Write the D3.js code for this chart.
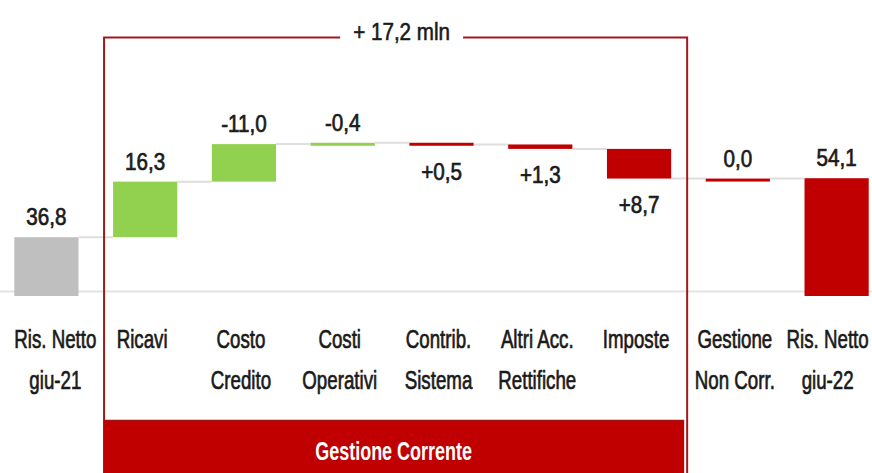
<!DOCTYPE html>
<html>
<head>
<meta charset="utf-8">
<script src="https://cdn.jsdelivr.net/npm/d3@7"></script>
<style>
  body { margin: 0; background: #fff; }
  svg text { font-family: "Liberation Sans", Arial, sans-serif; fill: #1a1a1a; }
</style>
</head>
<body>
<div id="chart"></div>
<script>
// waterfall data
var categories = [
  ["Ris. Netto", "giu-21"],
  ["Ricavi"],
  ["Costo", "Credito"],
  ["Costi", "Operativi"],
  ["Contrib.", "Sistema"],
  ["Altri Acc.", "Rettifiche"],
  ["Imposte"],
  ["Gestione", "Non Corr."],
  ["Ris. Netto", "giu-22"]
];
var values = [36.8, 16.3, 11.0, 0.4, -0.5, -1.3, -8.7, 0.0, 54.1];
var kinds = ["start", "up", "up", "up", "down", "down", "down", "down", "end"];
var valueLabels = ["36,8", "16,3", "-11,0", "-0,4", "+0,5", "+1,3", "+8,7", "0,0", "54,1"];
var groupTitle = "+ 17,2 mln";
var groupName = "Gestione Corrente";
var groupFrom = 1, groupTo = 6;

var colors = { start: "#bfbfbf", up: "#92d050", down: "#c00000", end: "#c00000" };

var W = 872, H = 473;

var svg = d3.select("#chart").append("svg")
  .attr("width", W).attr("height", H);

var ids = categories.map(function(c, i) { return "c" + i; });

var x = d3.scaleBand()
  .domain(ids)
  .range([-3, 886])
  .paddingInner(0.35)
  .paddingOuter(0.175);

var y = d3.scaleLinear()
  .domain([20, 70])
  .range([294.5, 124]);

// build running totals
var bars = [];
var run = 0;
values.forEach(function(v, i) {
  var k = kinds[i];
  var b = { id: ids[i], kind: k, label: valueLabels[i], cat: categories[i], v: v };
  if (k === "start" || k === "end") {
    b.y0 = y.domain()[0]; b.y1 = v; run = v;
  } else {
    b.y0 = run; b.y1 = run + v; run = b.y1;
  }
  b.level = run;
  bars.push(b);
});

// narrow text: the original font is condensed, so squeeze horizontally
function narrowText(sel, cx, cy, sx) {
  return sel.append("text")
    .attr("transform", "translate(" + cx + "," + cy + ") scale(" + sx + ",1)")
    .attr("text-anchor", "middle");
}

// base line
svg.append("line")
  .attr("x1", 0).attr("x2", W)
  .attr("y1", 291.5).attr("y2", 291.5)
  .attr("stroke", "#e3e3e3").attr("stroke-width", 2);

// connectors
for (var i = 0; i < bars.length - 1; i++) {
  svg.append("line")
    .attr("class", "conn")
    .attr("x1", x(bars[i].id) + x.bandwidth())
    .attr("x2", x(bars[i + 1].id))
    .attr("y1", y(bars[i].level))
    .attr("y2", y(bars[i].level))
    .attr("stroke", "#dedede").attr("stroke-width", 2);
}

// bars
function barTop(b) { return Math.min(y(b.y0), y(b.y1)); }
function barBot(b) { return Math.max(y(b.y0), y(b.y1)); }
function barH(b) { return Math.max(3, barBot(b) - barTop(b)); }
function isTotal(b) { return b.kind === "start" || b.kind === "end"; }

svg.selectAll("rect.bar")
  .data(bars)
  .enter().append("rect")
  .attr("class", "bar")
  .attr("x", function(d) { return x(d.id); })
  .attr("width", x.bandwidth())
  .attr("y", function(d) { return barTop(d); })
  .attr("height", function(d) { return isTotal(d) ? 296 - barTop(d) : barH(d); })
  .attr("fill", function(d) { return colors[d.kind]; });

// value labels
bars.forEach(function(d) {
  var cy = d.v < 0 ? barTop(d) + barH(d) + 34 : barTop(d) - 12;
  narrowText(svg, x(d.id) + x.bandwidth() / 2, cy, 0.86)
    .style("font-size", "24px")
    .style("stroke", "#1a1a1a").style("stroke-width", 0.7)
    .text(d.label);
});

// category labels (kept inside the outer bars' edges)
var catScale = 0.72;
var edgeL = x(ids[0]), edgeR = x(ids[ids.length - 1]) + x.bandwidth();
bars.forEach(function(d) {
  var cx = x(d.id) + x.bandwidth() / 2 - 3;
  var t = narrowText(svg, cx, 348, catScale)
    .style("font-size", "26px")
    .style("stroke", "#1a1a1a").style("stroke-width", 0.7);
  d.cat.forEach(function(line, j) {
    t.append("tspan").attr("x", 0).attr("y", j * 41).text(line);
  });
  var half = t.node().getBBox().width * catScale / 2;
  var nx = Math.min(Math.max(cx, edgeL + half), edgeR - half);
  t.attr("transform", "translate(" + nx + ",348) scale(" + catScale + ",1)");
});

// group box
var boxL = x(ids[groupFrom]) - 9;
var boxR = x(ids[groupTo]) + x.bandwidth() + 16;
var boxT = 37.5;
var mid = (boxL + boxR) / 2 + 6;
var boxColor = "#a0181c";

svg.append("rect")
  .attr("x", boxL - 1).attr("y", 420)
  .attr("width", boxR - boxL - 2).attr("height", H - 420)
  .attr("fill", "#c00000");
svg.append("line")
  .attr("x1", boxL - 1).attr("x2", boxR - 3)
  .attr("y1", 420.5).attr("y2", 420.5)
  .attr("stroke", "#a51010").attr("stroke-width", 1.5);

narrowText(svg, (boxL + boxR) / 2 - 2, 460, 0.72)
  .style("font-size", "25px")
  .style("font-weight", "bold")
  .style("fill", "#fff")
  .text(groupName);

var titleScale = 0.86;
var title = narrowText(svg, mid, 40, titleScale)
  .style("font-size", "24px")
  .style("stroke", "#1a1a1a").style("stroke-width", 0.6)
  .text(groupTitle);

var tw = title.node().getComputedTextLength() * titleScale;
var gap = 13;

svg.append("path")
  .attr("d", "M" + (mid - tw / 2 - gap) + "," + boxT + "H" + boxL + "V420")
  .attr("fill", "none").attr("stroke", boxColor).attr("stroke-width", 2);
svg.append("path")
  .attr("d", "M" + (mid + tw / 2 + gap) + "," + boxT + "H" + boxR + "V" + H)
  .attr("fill", "none").attr("stroke", boxColor).attr("stroke-width", 2);
</script>
</body>
</html>
